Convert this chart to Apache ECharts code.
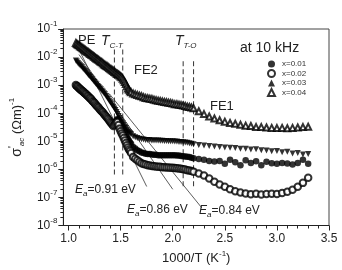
<!DOCTYPE html>
<html>
<head>
<meta charset="utf-8">
<script src="https://cdn.jsdelivr.net/npm/echarts@6/dist/echarts.min.js"></script>
<style>
  html, body { margin: 0; padding: 0; background: #fff; }
  #chart { width: 342px; height: 270px; }
</style>
</head>
<body>
<div id="chart"></div>
<script>
// 1000/T values (K^-1)
const xs = [
  // PE region, dense
  1.07, 1.08, 1.09, 1.10, 1.11, 1.12, 1.13, 1.14, 1.15, 1.16,
  1.17, 1.18, 1.19, 1.20, 1.21, 1.22, 1.23, 1.24, 1.25, 1.26,
  1.27, 1.28, 1.29, 1.30, 1.31, 1.32, 1.33, 1.34, 1.35, 1.36,
  1.37, 1.38, 1.39, 1.40, 1.41, 1.42, 1.43, 1.44, 1.45, 1.46,
  1.47, 1.48, 1.49, 1.50, 1.51, 1.52, 1.53, 1.54, 1.55, 1.56,
  1.57, 1.58, 1.59, 1.60,
  // FE2 region
  1.62, 1.64, 1.66, 1.68, 1.70, 1.72, 1.74, 1.76, 1.78, 1.80,
  1.82, 1.84, 1.86, 1.88, 1.90, 1.92, 1.94, 1.96, 1.98, 2.00,
  2.02, 2.04, 2.06, 2.08, 2.10, 2.12, 2.14, 2.16, 2.18, 2.20,
  // FE1 region
  2.25, 2.30, 2.35, 2.40, 2.45, 2.50, 2.55, 2.60, 2.65, 2.70,
  2.75, 2.80, 2.85, 2.90, 2.95, 3.00, 3.05, 3.10, 3.15, 3.20,
  3.25, 3.30
];
// sigma'ac (Ohm m)^-1 at 10 kHz
const sigmaX001 = [
  9.1e-4, 8.5e-4, 7.8e-4, 7.2e-4, 6.6e-4, 6.2e-4, 5.8e-4, 5.4e-4, 4.9e-4, 4.6e-4,
  4.3e-4, 3.9e-4, 3.6e-4, 3.3e-4, 3.1e-4, 2.8e-4, 2.6e-4, 2.35e-4, 2.1e-4, 1.95e-4,
  1.78e-4, 1.62e-4, 1.48e-4, 1.35e-4, 1.23e-4, 1.12e-4, 1.02e-4, 9.3e-5, 8.5e-5, 7.8e-5,
  7.1e-5, 6.3e-5, 5.8e-5, 5.1e-5, 4.7e-5, 4.3e-5, 4.0e-5, 4.5e-5, 5.0e-5, 5.6e-5,
  6.2e-5, 5.9e-5, 5.2e-5, 4.6e-5, 3.7e-5, 3.1e-5, 2.5e-5, 2.1e-5, 1.7e-5, 1.41e-5,
  1.2e-5, 1.05e-5, 9.1e-6, 8.1e-6,
  6.3e-6, 5.5e-6, 4.8e-6, 4.4e-6, 4.0e-6, 3.8e-6, 3.6e-6, 3.5e-6, 3.5e-6, 3.4e-6,
  3.3e-6, 3.3e-6, 3.2e-6, 3.2e-6, 3.2e-6, 3.16e-6, 3.16e-6, 3.2e-6, 3.2e-6, 3.16e-6,
  3.16e-6, 3.1e-6, 3.1e-6, 3.0e-6, 2.95e-6, 2.9e-6, 2.8e-6, 2.75e-6, 2.6e-6, 2.5e-6,
  2.35e-6, 2.2e-6, 2.0e-6, 1.9e-6, 2.0e-6, 1.6e-6, 2.2e-6, 1.8e-6, 1.4e-6, 2.1e-6,
  1.7e-6, 1.95e-6, 1.4e-6, 1.85e-6, 1.66e-6, 1.6e-6, 1.7e-6, 1.62e-6, 1.5e-6, 1.7e-6,
  2.2e-6, 1.6e-6
];
const sigmaX002 = [
  1.02e-3, 9.3e-4, 8.7e-4, 7.9e-4, 7.4e-4, 6.9e-4, 6.3e-4, 5.9e-4, 5.5e-4, 5.0e-4,
  4.7e-4, 4.3e-4, 4.0e-4, 3.6e-4, 3.4e-4, 3.1e-4, 2.75e-4, 2.5e-4, 2.3e-4, 2.05e-4,
  1.86e-4, 1.7e-4, 1.55e-4, 1.38e-4, 1.26e-4, 1.15e-4, 1.05e-4, 9.3e-5, 8.5e-5, 7.6e-5,
  6.9e-5, 6.2e-5, 5.5e-5, 4.9e-5, 4.4e-5, 4.0e-5, 3.5e-5, 3.8e-5, 4.2e-5, 4.6e-5,
  4.9e-5, 3.8e-5, 2.8e-5, 2.3e-5, 1.9e-5, 1.6e-5, 1.3e-5, 1.07e-5, 8.7e-6, 7.2e-6,
  6.0e-6, 5.1e-6, 4.5e-6, 3.8e-6,
  2.75e-6, 2.4e-6, 2.1e-6, 1.86e-6, 1.66e-6, 1.55e-6, 1.48e-6, 1.41e-6, 1.38e-6, 1.32e-6,
  1.29e-6, 1.26e-6, 1.23e-6, 1.23e-6, 1.2e-6, 1.2e-6, 1.17e-6, 1.17e-6, 1.15e-6, 1.15e-6,
  1.12e-6, 1.1e-6, 1.07e-6, 1.05e-6, 1.0e-6, 9.8e-7, 9.3e-7, 9.1e-7, 8.7e-7, 8.3e-7,
  7.1e-7, 6.0e-7, 4.7e-7, 3.6e-7, 2.9e-7, 2.4e-7, 1.95e-7, 1.66e-7, 1.5e-7, 1.38e-7,
  1.29e-7, 1.35e-7, 1.26e-7, 1.32e-7, 1.35e-7, 1.32e-7, 1.45e-7, 1.6e-7, 1.86e-7, 2.4e-7,
  3.3e-7, 5.0e-7
];
const sigmaX003 = [
  7.6e-3, 6.9e-3, 6.2e-3, 5.6e-3, 5.1e-3, 4.7e-3, 4.3e-3, 3.8e-3, 3.5e-3, 3.2e-3,
  2.9e-3, 2.6e-3, 2.3e-3, 2.1e-3, 1.95e-3, 1.74e-3, 1.6e-3, 1.4e-3, 1.3e-3, 1.15e-3,
  1.05e-3, 9.3e-4, 8.5e-4, 7.8e-4, 7.1e-4, 6.3e-4, 5.8e-4, 5.1e-4, 4.7e-4, 4.1e-4,
  3.6e-4, 3.2e-4, 2.8e-4, 2.45e-4, 2.2e-4, 1.9e-4, 1.7e-4, 1.48e-4, 1.3e-4, 1.1e-4,
  9.3e-5, 7.9e-5, 6.8e-5, 5.8e-5, 5.0e-5, 4.4e-5, 3.8e-5, 3.3e-5, 3.0e-5, 2.6e-5,
  2.3e-5, 2.1e-5, 1.95e-5, 1.78e-5,
  1.5e-5, 1.38e-5, 1.3e-5, 1.23e-5, 1.17e-5, 1.15e-5, 1.12e-5, 1.1e-5, 1.1e-5, 1.07e-5,
  1.07e-5, 1.07e-5, 1.07e-5, 1.05e-5, 1.05e-5, 1.02e-5, 1.02e-5, 1.0e-5, 1.0e-5, 1.0e-5,
  9.8e-6, 9.8e-6, 9.5e-6, 9.5e-6, 9.3e-6, 9.1e-6, 8.9e-6, 8.5e-6, 8.1e-6, 7.8e-6,
  7.4e-6, 7.1e-6, 6.8e-6, 6.5e-6, 6.2e-6, 6.0e-6, 5.9e-6, 5.8e-6, 5.4e-6, 5.4e-6,
  5.1e-6, 5.2e-6, 4.8e-6, 4.7e-6, 4.4e-6, 4.5e-6, 4.1e-6, 4.2e-6, 3.7e-6, 3.8e-6,
  3.4e-6, 3.5e-6
];
const sigmaX004 = [
  3.16e-2, 2.95e-2, 2.75e-2, 2.63e-2, 2.45e-2, 2.29e-2, 2.14e-2, 2.04e-2, 1.91e-2, 1.78e-2,
  1.66e-2, 1.55e-2, 1.48e-2, 1.38e-2, 1.29e-2, 1.2e-2, 1.15e-2, 1.07e-2, 1.0e-2, 9.3e-3,
  8.7e-3, 8.3e-3, 7.8e-3, 7.2e-3, 6.8e-3, 6.5e-3, 6.0e-3, 5.6e-3, 5.2e-3, 4.9e-3,
  4.7e-3, 4.4e-3, 4.1e-3, 3.8e-3, 3.6e-3, 3.4e-3, 3.2e-3, 2.95e-3, 2.8e-3, 2.6e-3,
  2.5e-3, 2.35e-3, 2.2e-3, 2.05e-3, 1.9e-3, 1.7e-3, 1.5e-3, 1.3e-3, 1.1e-3, 9.1e-4,
  7.6e-4, 6.8e-4, 6.0e-4, 5.6e-4,
  5.0e-4, 4.7e-4, 4.5e-4, 4.2e-4, 4.0e-4, 3.7e-4, 3.5e-4, 3.4e-4, 3.3e-4, 3.2e-4,
  3.0e-4, 2.9e-4, 2.8e-4, 2.7e-4, 2.6e-4, 2.5e-4, 2.45e-4, 2.35e-4, 2.3e-4, 2.2e-4,
  2.1e-4, 2.1e-4, 2.0e-4, 1.95e-4, 1.9e-4, 1.8e-4, 1.7e-4, 1.66e-4, 1.6e-4, 1.5e-4,
  1.17e-4, 9.3e-5, 7.6e-5, 6.5e-5, 5.6e-5, 5.0e-5, 4.5e-5, 4.2e-5, 3.9e-5, 3.6e-5,
  3.5e-5, 3.2e-5, 3.2e-5, 3.1e-5, 3.0e-5, 2.95e-5, 3.0e-5, 2.9e-5, 3.0e-5, 3.1e-5,
  3.2e-5, 3.3e-5
];
// activation-energy fit lines (end points)
const fit091 = [[1.08, 2.6e-2], [1.75, 2.45e-7]];
const fit086 = [[1.10, 1.23e-2], [2.00, 1.95e-7]];
const fit084 = [[1.39, 5.0e-4], [2.28, 4.2e-8]];
// phase transition markers
const tCT = [1.44, 1.52];
const tTO = [2.10, 2.20];
const tCTrange = [1.86e-2, 5.5e-7];
const tTOrange = [7.1e-3, 1.95e-7];

const xMajor = [1.0, 1.5, 2.0, 2.5, 3.0, 3.5];
const xMinor = [1.1, 1.2, 1.3, 1.4, 1.6, 1.7, 1.8, 1.9, 2.1, 2.2, 2.3, 2.4, 2.6, 2.7, 2.8, 2.9, 3.1, 3.2, 3.3, 3.4];
const legendNames = ['x=0.01', 'x=0.02', 'x=0.03', 'x=0.04'];

const FONT = 'Liberation Sans, Arial, sans-serif';
const INK = '#222';

const chart = echarts.init(document.getElementById('chart'));

const pts = ys => xs.map((x, i) => [x, ys[i]]);
const vline = (x, r) => [[x, r[0]], [x, r[1]]];

const dashed = (x, r) => ({
  type: 'line', data: vline(x, r), symbol: 'none', silent: true,
  lineStyle: {color: '#333', width: 1, type: [5, 3]}, z: 1
});
const fitLine = d => ({
  type: 'line', data: d, symbol: 'none', silent: true,
  lineStyle: {color: '#333', width: 0.8}, z: 1
});

const sup = {fontSize: 8, fontFamily: FONT, color: INK, lineHeight: 8, verticalAlign: 'top'};
const base12 = {fontSize: 12, fontFamily: FONT, color: INK, lineHeight: 18};

function eaText(v) {
  return {
    text: '{e|E}{a|a}{n|=' + v + ' eV}',
    rich: {
      e: {fontSize: 12, fontStyle: 'italic', fontFamily: FONT, fill: INK, lineHeight: 16},
      a: {fontSize: 8, fontStyle: 'italic', fontFamily: FONT, fill: INK, lineHeight: 9, verticalAlign: 'bottom'},
      n: {fontSize: 12, fontFamily: FONT, fill: INK, lineHeight: 16}
    }
  };
}
function tLabel(sub) {
  return {
    text: '{t|T}{s|' + sub + '}',
    rich: {
      t: {fontSize: 14, fontStyle: 'italic', fontFamily: FONT, fill: INK, lineHeight: 18},
      s: {fontSize: 8, fontStyle: 'italic', fontFamily: FONT, fill: INK, lineHeight: 10, verticalAlign: 'bottom'}
    }
  };
}

const option = {
  animation: false,
  backgroundColor: '#fff',
  grid: {left: 52, right: 13, top: 29, bottom: 40, show: true, borderColor: '#444', borderWidth: 1},
  legend: {
    orient: 'vertical', left: 267, top: 60, padding: 0, itemGap: 1,
    itemWidth: 7, itemHeight: 7,
    textStyle: {fontSize: 8, fontFamily: FONT, color: '#333', padding: [0, 0, 0, 2]},
    data: legendNames
  },
  xAxis: [{
    type: 'value', min: 0.95, max: 3.5,
    axisLine: {lineStyle: {color: INK}},
    axisTick: {length: 5, customValues: xMajor, lineStyle: {color: INK}},
    axisLabel: {customValues: xMajor, formatter: v => v.toFixed(1), fontSize: 12, fontFamily: FONT, color: INK, margin: 7},
    splitLine: {show: false},
    name: '{n|1000/T (K}{s|-1}{n|)}', nameLocation: 'middle', nameGap: 24,
    nameTextStyle: {rich: {n: {fontSize: 13, fontFamily: FONT, color: INK, lineHeight: 18}, s: sup}}
  }, {
    type: 'value', min: 0.95, max: 3.5, position: 'bottom',
    axisLine: {show: false},
    axisTick: {length: 3, customValues: xMinor, lineStyle: {color: INK}},
    axisLabel: {show: false}, splitLine: {show: false}
  }],
  yAxis: {
    type: 'log', logBase: 10, min: 1e-8, max: 1e-1, splitNumber: 7,
    axisLine: {show: true, lineStyle: {color: INK}},
    axisTick: {length: 5, lineStyle: {color: INK}},
    minorTick: {show: true, splitNumber: 9, length: 3, lineStyle: {color: INK}},
    splitLine: {show: false},
    axisLabel: {
      fontFamily: FONT, color: INK, margin: 6,
      formatter: v => '{b|10}{s|' + Math.round(Math.log10(v)) + '}',
      rich: {b: base12, s: sup}
    },
    name: '{g|σ}{p|\'}{a|ac}{n| (Ωm)}{s|-1}', nameLocation: 'middle', nameGap: 36, nameRotate: 90,
    nameTextStyle: {rich: {
      g: {fontSize: 14, fontFamily: FONT, color: INK, lineHeight: 18},
      p: {fontSize: 10, fontFamily: FONT, color: INK, lineHeight: 10, verticalAlign: 'top'},
      a: {fontSize: 8, fontStyle: 'italic', fontFamily: FONT, color: INK, lineHeight: 9, verticalAlign: 'bottom'},
      n: {fontSize: 13, fontFamily: FONT, color: INK, lineHeight: 18},
      s: sup
    }}
  },
  series: [
    dashed(tCT[0], tCTrange), dashed(tCT[1], tCTrange),
    dashed(tTO[0], tTOrange), dashed(tTO[1], tTOrange),
    fitLine(fit091), fitLine(fit086), fitLine(fit084),
    {name: legendNames[0], type: 'scatter', data: pts(sigmaX001), symbol: 'circle', symbolSize: 6.5,
     itemStyle: {color: '#000'}, z: 2},
    {name: legendNames[1], type: 'scatter', data: pts(sigmaX002), symbol: 'emptyCircle', symbolSize: 6.5,
     itemStyle: {color: '#000', borderWidth: 1}, z: 3},
    {name: legendNames[2], type: 'scatter', data: pts(sigmaX003), symbol: 'triangle', symbolRotate: 180, symbolSize: 6,
     itemStyle: {color: '#000'}, z: 4},
    {name: legendNames[3], type: 'scatter', data: pts(sigmaX004), symbol: 'emptyTriangle', symbolSize: 6,
     itemStyle: {color: '#000', borderWidth: 1}, z: 5}
  ],
  graphic: [
    {type: 'text', left: 78, top: 34, style: {text: 'PE', font: '13px ' + FONT, fill: INK}},
    {type: 'text', left: 101, top: 34, style: tLabel('C-T')},
    {type: 'text', left: 134, top: 64, style: {text: 'FE2', font: '13px ' + FONT, fill: INK}},
    {type: 'text', left: 175, top: 34, style: tLabel('T-O')},
    {type: 'text', left: 240, top: 41, style: {text: 'at 10 kHz', font: '14px ' + FONT, fill: INK}},
    {type: 'text', left: 210, top: 100, style: {text: 'FE1', font: '13px ' + FONT, fill: INK}},
    {type: 'text', left: 75, top: 184, style: eaText('0.91')},
    {type: 'text', left: 127, top: 204, style: eaText('0.86')},
    {type: 'text', left: 199, top: 205, style: eaText('0.84')}
  ]
};

chart.setOption(option);
window.addEventListener('resize', function () {
  chart.resize();
});
</script>
</body>
</html>
